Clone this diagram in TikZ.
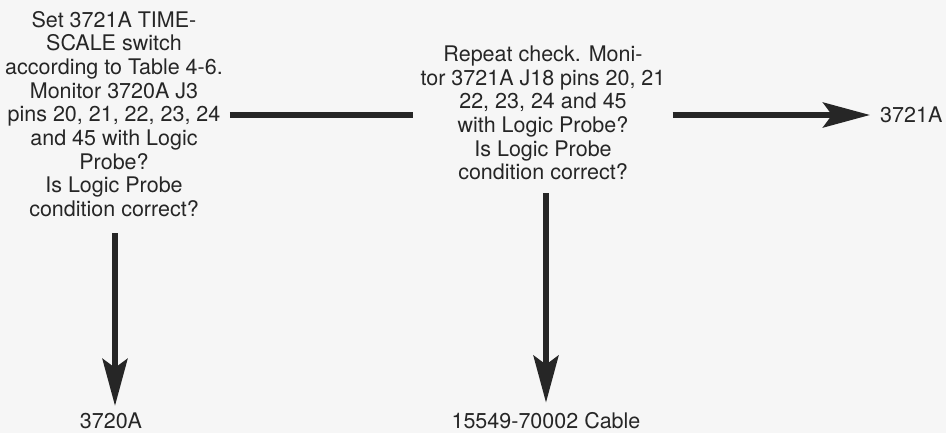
\documentclass[tikz,border=0pt]{standalone}
\usepackage{fontspec}
\setmainfont{TeX Gyre Heros}
\usetikzlibrary{arrows.meta,calc}
\definecolor{paper}{RGB}{246,246,246}
\definecolor{ink}{RGB}{38,38,38}
\tikzset{
  step text/.style={align=center,inner sep=0pt,text=ink,
    font=\fontsize{21.5}{23.7}\selectfont},
  bar/.style={line width=5.5pt,draw=ink},
  arr/.style={bar,-{Stealth[length=47pt,width=25pt,inset=9pt]}}
}
\begin{document}
\begin{tikzpicture}[x=1pt,y=-1pt]
      \fill[paper] (0,0) rectangle (946,433);
      \useasboundingbox (0,0) rectangle (946,433);
      \coordinate (barY) at (0,115);
      \node[step text] (check1) at (114,114)
        {Set 3721A TIME-\\SCALE switch\\according to Table 4-6.\\Monitor 3720A J3\\pins 20, 21, 22, 23, 24\\and 45 with Logic\\Probe?\\Is Logic Probe\\condition correct?};
      \node[step text] (check2) at (543,113)
        {Repeat check. Moni-\\tor 3721A J18 pins 20, 21\\22, 23, 24 and 45\\with Logic Probe?\\Is Logic Probe\\condition correct?};
      \node[step text,anchor=west] (res3) at (880,115) {3721A};
      \node[step text] (res1) at (111,421) {3720A};
      \node[step text] (res2) at (546,421) {15549-70002 Cable};
      \begin{scope}
        \draw[bar] ($(check1.east |- barY)+(7,0)$) -- ($(check2.west |- barY)+(-7,0)$);
        \draw[arr] ($(check2.east |- barY)+(7,0)$) -- ($(res3.west)+(-10,0)$);
        \draw[arr] ($(check1.south)+(1,16)$) -- ($(check1.south |- res1.north)+(1,-7)$);
        \draw[arr] ($(check2.south)+(3,13)$) -- ($(check2.south |- res2.north)+(3,-10)$);
      \end{scope}
    \end{tikzpicture}
\end{document}
